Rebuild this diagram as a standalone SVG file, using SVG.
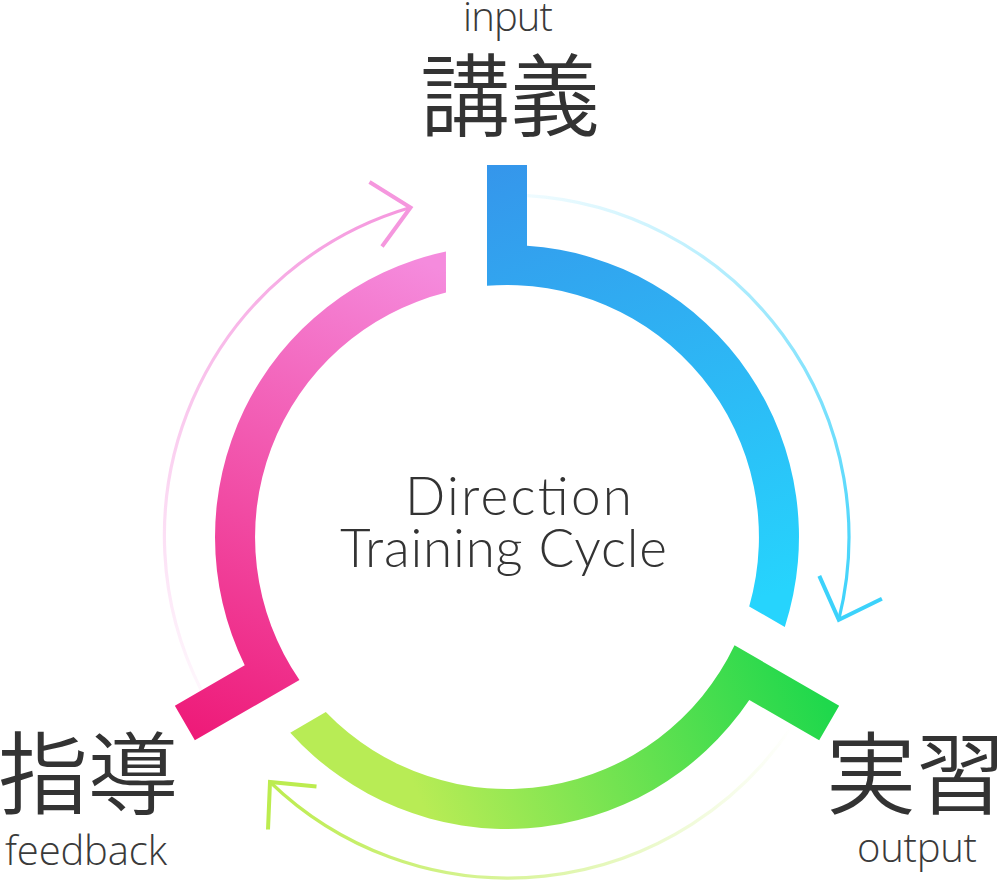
<svg xmlns="http://www.w3.org/2000/svg" width="999" height="882" viewBox="0 0 999 882">
  <style>
    .jp { font-family: "Noto Sans CJK JP", "Noto Sans", sans-serif; font-size: 90px; fill: #333333; text-anchor: middle; font-weight: 350; }
    .en { font-family: "Open Sans", "Noto Sans", "Liberation Sans", sans-serif; font-size: 40px; font-weight: 300; fill: #3a3a3a; }
    .title { font-family: "Lato", "Open Sans", "Liberation Sans", sans-serif; font-size: 53px; font-weight: 300; fill: #333333; }
    .line { fill: none; stroke-width: 3.2; }
    .head { fill: none; stroke-width: 4; stroke-linejoin: miter; stroke-miterlimit: 10; }
  </style>
  <defs>
    <linearGradient id="gBlue" gradientUnits="userSpaceOnUse" x1="480" y1="170" x2="640" y2="640">
      <stop offset="0" stop-color="#3596eb"/>
      <stop offset="1" stop-color="#26d4fd"/>
    </linearGradient>
    <linearGradient id="gGreen" gradientUnits="userSpaceOnUse" x1="800" y1="640" x2="420" y2="800">
      <stop offset="0" stop-color="#1fd84c"/>
      <stop offset="1" stop-color="#b8ec55"/>
    </linearGradient>
    <linearGradient id="gPink" gradientUnits="userSpaceOnUse" x1="200" y1="740" x2="420" y2="260">
      <stop offset="0" stop-color="#ee1a78"/>
      <stop offset="1" stop-color="#f58bdd"/>
    </linearGradient>
    <linearGradient id="aBlue" gradientUnits="userSpaceOnUse" x1="527" y1="196" x2="839" y2="620">
      <stop offset="0" stop-color="#3cd2fb" stop-opacity="0.08"/>
      <stop offset="1" stop-color="#3cd2fb" stop-opacity="1"/>
    </linearGradient>
    <linearGradient id="aGreen" gradientUnits="userSpaceOnUse" x1="792" y1="725" x2="269" y2="783">
      <stop offset="0" stop-color="#bcec4f" stop-opacity="0"/>
      <stop offset="1" stop-color="#bcec4f" stop-opacity="1"/>
    </linearGradient>
    <linearGradient id="aPink" gradientUnits="userSpaceOnUse" x1="201" y1="690" x2="411" y2="208">
      <stop offset="0" stop-color="#f597de" stop-opacity="0.08"/>
      <stop offset="1" stop-color="#f597de" stop-opacity="1"/>
    </linearGradient>
  </defs>

  <g id="connectors">
    <g id="arrow-input-output">
      <path class="line" stroke="url(#aBlue)" d="M527.3 195.6 A342 342 0 0 1 838.8 619.7"/>
      <polyline class="head" stroke="#3cd2fb" points="819.3,575.9 838.8,619.7 881.9,598.7"/>
    </g>
    <g id="arrow-output-feedback">
      <path class="line" stroke="url(#aGreen)" d="M792.5 725.3 A342 342 0 0 1 270 782"/>
      <polyline class="head" stroke="#bcec4f" points="316.5,786.5 270,782 268,829.5"/>
    </g>
    <g id="arrow-feedback-input">
      <path class="line" stroke="url(#aPink)" d="M201.2 690.1 A342 342 0 0 1 410.5 207.5"/>
      <polyline class="head" stroke="#f597de" points="382,246.5 410.5,207.5 369.5,182"/>
    </g>
  </g>

  <g id="ring">
    <path id="seg-input" fill="url(#gBlue)" d="M487 165 H527 V245.69 A292 292 0 0 1 784.8 626.9 L749.2 606.4 A252 252 0 0 0 487 285.8 Z"/>
    <path id="seg-output" fill="url(#gGreen)" d="M839.16 705.68 L819.16 740.32 L749.28 699.98 A292 292 0 0 1 290.25 732.63 L325.8 712.05 A252 252 0 0 0 734.54 645.28 Z"/>
    <path id="seg-feedback" fill="url(#gPink)" d="M194.84 740.32 L174.84 705.68 L244.72 665.34 A292 292 0 0 1 445.95 251.47 L446 292.55 A252 252 0 0 0 299.46 679.92 Z"/>
  </g>

  <g id="node-input">
    <text class="en" x="463" y="31" textLength="90">input</text>
    <text class="jp" x="510" y="129" font-size="91">講義</text>
  </g>
  <g id="node-output">
    <text class="jp" x="916" y="807" font-size="82">実習</text>
    <text class="en" x="857" y="862" textLength="120">output</text>
  </g>
  <g id="node-feedback">
    <text class="jp" x="88" y="807" font-size="87">指導</text>
    <text class="en" x="5" y="865" textLength="162">feedback</text>
  </g>
  <g id="center-title">
    <text class="title" x="405" y="515" textLength="227">Direction</text>
    <text class="title" x="340" y="567" textLength="327">Training Cycle</text>
  </g>
</svg>
